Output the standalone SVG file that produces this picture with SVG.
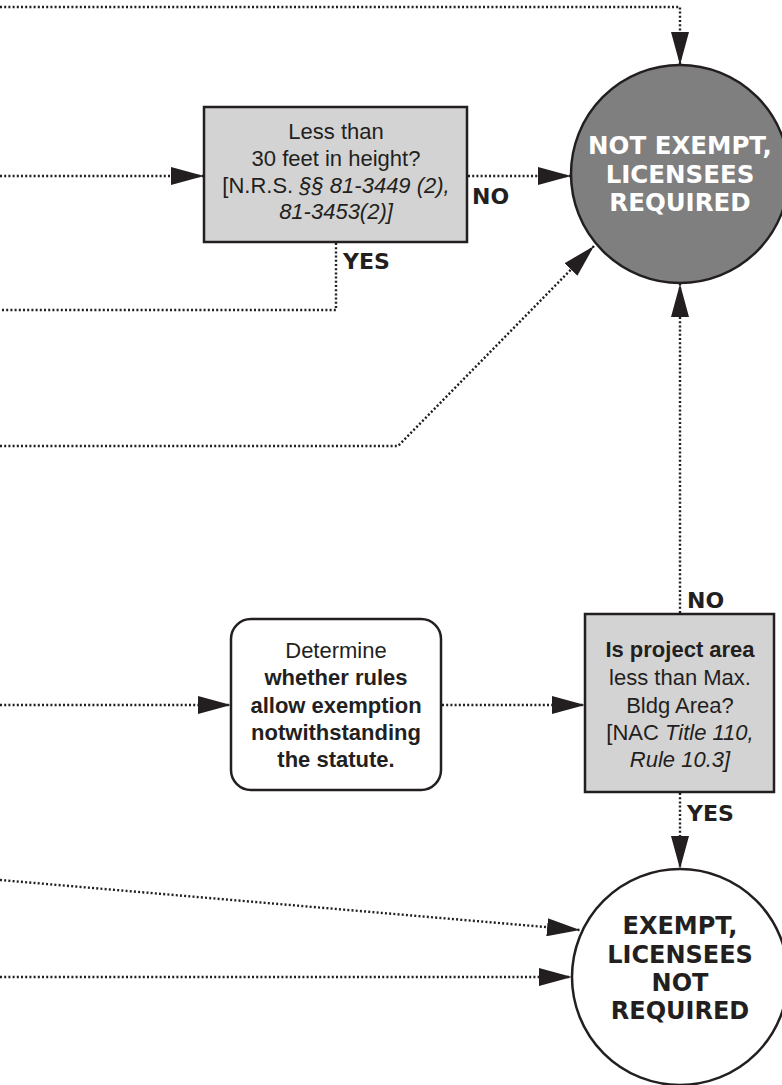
<svg xmlns="http://www.w3.org/2000/svg" width="782" height="1085" viewBox="0 0 782 1085">
<style>
.c{fill:none;stroke:#231f20;stroke-width:2.4;stroke-dasharray:2 2.2}
.box{fill:#d3d3d3;stroke:#231f20;stroke-width:2.5}
.rbox{fill:#ffffff;stroke:#231f20;stroke-width:2.5}
.t{font-family:"Liberation Sans",Arial,sans-serif;font-size:22px;fill:#231f20;text-anchor:middle}
.b{font-weight:bold}
.i{font-style:italic}
.lbl{font-family:"DejaVu Sans",sans-serif;font-weight:bold;font-size:22px;fill:#231f20}
.ct{font-family:"DejaVu Sans",sans-serif;font-weight:bold;text-anchor:middle}
</style>
<defs>
<marker id="ah" viewBox="0 0 33 18" refX="33" refY="9" markerWidth="33" markerHeight="18" markerUnits="userSpaceOnUse" orient="auto"><path d="M0,0 L33,9 L0,18 Z" fill="#231f20"/></marker>
</defs>
<rect width="782" height="1085" fill="#ffffff"/>
<g id="connectors">
<path class="c" d="M0,7 H680 V65" marker-end="url(#ah)"/>
<path class="c" d="M0,176 H204" marker-end="url(#ah)"/>
<path class="c" d="M468,176 H571" marker-end="url(#ah)"/>
<path class="c" d="M336,243 V310 H0"/>
<path class="c" d="M0,446 H398 L594,246" marker-end="url(#ah)"/>
<path class="c" d="M680,613 V284" marker-end="url(#ah)"/>
<path class="c" d="M0,705 H231" marker-end="url(#ah)"/>
<path class="c" d="M442,705 H585" marker-end="url(#ah)"/>
<path class="c" d="M680,793 V869" marker-end="url(#ah)"/>
<path class="c" d="M0,880 L580,930" marker-end="url(#ah)"/>
<path class="c" d="M0,977 H572" marker-end="url(#ah)"/>
<text class="lbl" x="472" y="204">NO</text>
<text class="lbl" x="343" y="269">YES</text>
<text class="lbl" x="687" y="608">NO</text>
<text class="lbl" x="687" y="821">YES</text>
</g>
<g id="height-check">
<rect class="box" x="204" y="107" width="263" height="135"/>
<text class="t" x="336" y="139">Less than</text>
<text class="t" x="336" y="166">30 feet in height?</text>
<text class="t" x="336" y="193">[N.R.S. <tspan class="i">§§ 81-3449 (2),</tspan></text>
<text class="t i" x="336" y="219">81-3453(2)]</text>
</g>
<g id="not-exempt">
<circle cx="680" cy="174" r="109" fill="#7f7f7f" stroke="#231f20" stroke-width="2.5"/>
<text class="ct" x="680" y="154" font-size="24.5" fill="#ffffff">NOT EXEMPT,</text>
<text class="ct" x="680" y="183" font-size="24.5" fill="#ffffff">LICENSEES</text>
<text class="ct" x="680" y="211" font-size="24.5" fill="#ffffff">REQUIRED</text>
</g>
<g id="determine">
<rect class="rbox" x="231" y="619" width="210" height="171" rx="20" ry="20"/>
<text class="t" x="336" y="658">Determine</text>
<text class="t b" x="336" y="685">whether rules</text>
<text class="t b" x="336" y="713">allow exemption</text>
<text class="t b" x="336" y="740">notwithstanding</text>
<text class="t b" x="336" y="767">the statute.</text>
</g>
<g id="area-check">
<rect class="box" x="585" y="614" width="189" height="178"/>
<text class="t b" x="680" y="657">Is project area</text>
<text class="t" x="680" y="685">less than Max.</text>
<text class="t" x="680" y="713">Bldg Area?</text>
<text class="t" x="680" y="740">[NAC <tspan class="i">Title 110,</tspan></text>
<text class="t i" x="680" y="767">Rule 10.3]</text>
</g>
<g id="exempt">
<circle cx="680" cy="977" r="108" fill="#ffffff" stroke="#231f20" stroke-width="2.5"/>
<text class="ct" x="680" y="934" font-size="24" fill="#231f20">EXEMPT,</text>
<text class="ct" x="680" y="963" font-size="24" fill="#231f20">LICENSEES</text>
<text class="ct" x="680" y="991" font-size="24" fill="#231f20">NOT</text>
<text class="ct" x="680" y="1019" font-size="24" fill="#231f20">REQUIRED</text>
</g>
</svg>
